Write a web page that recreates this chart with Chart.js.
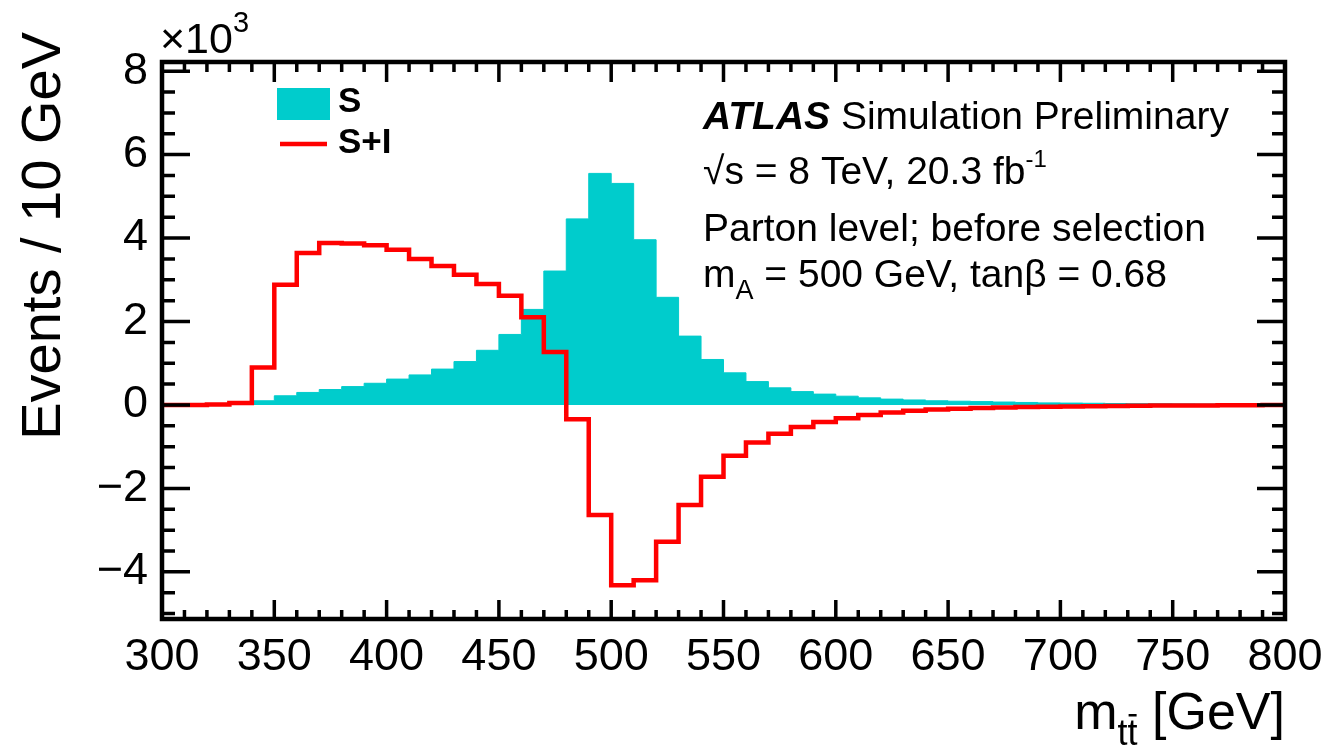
<!DOCTYPE html>
<html>
<head>
<meta charset="utf-8">
<script src="https://cdn.jsdelivr.net/npm/chart.js@4.4.1/dist/chart.umd.min.js"></script>
<style>
  html, body { margin: 0; padding: 0; background: #fff; }
  canvas { display: block; }
</style>
</head>
<body>
<canvas id="chart" width="1324" height="750"></canvas>
<script>
// bin low edges of m_tt (GeV), 10 GeV bins, histogram ends at 800
const binLow = [300, 310, 320, 330, 340, 350, 360, 370, 380, 390,
                400, 410, 420, 430, 440, 450, 460, 470, 480, 490,
                500, 510, 520, 530, 540, 550, 560, 570, 580, 590,
                600, 610, 620, 630, 640, 650, 660, 670, 680, 690,
                700, 710, 720, 730, 740, 750, 760, 770, 780, 790];
const binEnd = 800;

// Events / 10 GeV, in units of 10^3
const signal = [0, 0, 0, 0.02, 0.1, 0.22, 0.3, 0.37, 0.44, 0.52,
                0.62, 0.72, 0.86, 1.04, 1.31, 1.69, 2.29, 3.21, 4.46, 5.55,
                5.31, 3.96, 2.58, 1.65, 1.09, 0.77, 0.56, 0.41, 0.32, 0.26,
                0.21, 0.17, 0.14, 0.12, 0.1, 0.09, 0.08, 0.07, 0.06, 0.05,
                0.045, 0.04, 0.035, 0.03, 0.028, 0.025, 0.022, 0.02, 0.018, 0.016];
const signalPlusInterference = [0, 0, 0.01, 0.05, 0.9, 2.88, 3.64, 3.88, 3.87, 3.83,
                3.72, 3.5, 3.33, 3.12, 2.9, 2.62, 2.1, 1.27, -0.34, -2.64,
                -4.32, -4.2, -3.28, -2.4, -1.72, -1.22, -0.9, -0.69, -0.53, -0.41,
                -0.32, -0.24, -0.18, -0.14, -0.11, -0.09, -0.07, -0.06, -0.05, -0.04,
                -0.035, -0.03, -0.025, -0.02, -0.015, -0.012, -0.01, -0.008, -0.005, -0.003];

const xTickLabels = [300, 350, 400, 450, 500, 550, 600, 650, 700, 750, 800];
const yTickLabels = [-4, -2, 0, 2, 4, 6, 8];

const FONT = 'Liberation Sans, Arial, Helvetica, sans-serif';
const CYAN = '#00cccc';
const RED = '#ff0000';

function histPoints(values) {
  const pts = binLow.map((x, i) => ({ x: x, y: values[i] }));
  pts.push({ x: binEnd, y: values[values.length - 1] });
  return pts;
}

// draws text runs (sub/superscripts) left to right from x at baseline y
function drawRuns(ctx, x, y, runs) {
  runs.forEach(r => {
    ctx.font = r.font;
    ctx.fillText(r.text, x, y + (r.dy || 0));
    x += ctx.measureText(r.text).width;
  });
  return x;
}

const rootStyle = {
  id: 'rootStyle',
  afterDraw(chart) {
    const { ctx, chartArea: a, scales: { x, y } } = chart;
    ctx.save();

    // inward ticks on all four sides
    ctx.strokeStyle = '#000';
    ctx.lineWidth = 3.5;
    ctx.beginPath();
    for (let v = 300; v <= 800; v += 10) {
      const px = x.getPixelForValue(v);
      const major = v % 50 === 0;
      ctx.moveTo(px, a.bottom); ctx.lineTo(px, a.bottom - (major ? 19 : 9));
      ctx.moveTo(px, a.top); ctx.lineTo(px, a.top + (major ? 20 : 10));
    }
    for (let v = -5; v <= 8; v += 0.5) {
      const py = y.getPixelForValue(v);
      const len = v % 2 === 0 ? 28 : 13;
      ctx.moveTo(a.left, py); ctx.lineTo(a.left + len, py);
      ctx.moveTo(a.right, py); ctx.lineTo(a.right - len, py);
    }
    ctx.stroke();
    ctx.lineWidth = 4.5;
    ctx.strokeRect(a.left, a.top, a.right - a.left, a.bottom - a.top);

    ctx.fillStyle = '#000';
    ctx.textAlign = 'left';
    ctx.textBaseline = 'alphabetic';

    // x10^3 multiplier
    drawRuns(ctx, 160, 53, [
      { text: '\u00d710', font: '43px ' + FONT },
      { text: '3', font: '29px ' + FONT, dy: -21 }
    ]);

    // legend
    ctx.fillStyle = CYAN;
    ctx.fillRect(277, 88, 53, 32);
    ctx.strokeStyle = RED;
    ctx.lineWidth = 4.5;
    ctx.beginPath();
    ctx.moveTo(280, 144); ctx.lineTo(327, 144);
    ctx.stroke();
    ctx.fillStyle = '#000';
    ctx.font = 'bold 35px ' + FONT;
    ctx.fillText('S', 338, 112);
    ctx.fillText('S+I', 338, 153);

    // labels
    const tx = 703;
    drawRuns(ctx, tx, 129, [
      { text: 'ATLAS', font: 'italic bold 39px ' + FONT },
      { text: ' Simulation Preliminary', font: '39px ' + FONT }
    ]);
    drawRuns(ctx, tx, 184, [
      { text: '\u221as = 8 TeV, 20.3 fb', font: '39px ' + FONT },
      { text: '-1', font: '24px ' + FONT, dy: -17 }
    ]);
    drawRuns(ctx, tx, 241, [
      { text: 'Parton level; before selection', font: '39px ' + FONT }
    ]);
    drawRuns(ctx, tx, 287, [
      { text: 'm', font: '39px ' + FONT },
      { text: 'A', font: '27px ' + FONT, dy: 12 },
      { text: ' = 500 GeV, tan\u03b2 = 0.68', font: '39px ' + FONT }
    ]);

    // x title: m_tt [GeV], right aligned to the frame
    ctx.font = '52px ' + FONT;
    const tail = ' [GeV]';
    const tailW = ctx.measureText(tail).width;
    ctx.font = '36px ' + FONT;
    const subW = ctx.measureText('tt').width;
    ctx.font = '52px ' + FONT;
    const mW = ctx.measureText('m').width;
    let xs = a.right - tailW - subW - mW;
    xs = drawRuns(ctx, xs, 729, [{ text: 'm', font: '52px ' + FONT }]);
    ctx.font = '36px ' + FONT;
    ctx.fillText('tt', xs, 745);
    const t1 = ctx.measureText('t').width;
    ctx.fillRect(xs + t1 + 1, 714, t1 - 2, 2.5);
    drawRuns(ctx, xs + subW, 729, [{ text: tail, font: '52px ' + FONT }]);

    // y title, rotated, ending near the top of the frame
    ctx.translate(60, 32);
    ctx.rotate(-Math.PI / 2);
    ctx.textAlign = 'right';
    ctx.font = '56px ' + FONT;
    ctx.fillText('Events / 10 GeV', 0, 0);

    ctx.restore();
  }
};

new Chart(document.getElementById('chart'), {
  type: 'line',
  data: {
    datasets: [
      {
        label: 'S+I',
        data: histPoints(signalPlusInterference),
        stepped: 'before',
        borderColor: RED,
        borderWidth: 4.5,
        pointRadius: 0,
        fill: false,
        order: 1
      },
      {
        label: 'S',
        data: histPoints(signal),
        stepped: 'before',
        borderColor: CYAN,
        backgroundColor: CYAN,
        borderWidth: 1,
        pointRadius: 0,
        fill: 'origin',
        order: 2
      }
    ]
  },
  options: {
    responsive: false,
    animation: false,
    devicePixelRatio: 1,
    layout: { padding: { top: 62, right: 39, left: 0, bottom: 0 } },
    plugins: { legend: { display: false }, tooltip: { enabled: false } },
    scales: {
      x: {
        type: 'linear',
        min: 300,
        max: 800,
        afterFit: s => { s.height = 131; s.paddingLeft = 0; s.paddingRight = 0; },
        afterBuildTicks: s => { s.ticks = xTickLabels.map(v => ({ value: v })); },
        grid: { display: false, drawTicks: false },
        border: { display: false },
        ticks: {
          padding: 12,
          maxRotation: 0,
          autoSkip: false,
          color: '#000',
          font: { family: FONT, size: 45 }
        }
      },
      y: {
        type: 'linear',
        min: -5.13,
        max: 8.22,
        afterFit: s => { s.width = 162; s.paddingTop = 0; s.paddingBottom = 0; },
        afterBuildTicks: s => { s.ticks = yTickLabels.map(v => ({ value: v })); },
        grid: { display: false, drawTicks: false },
        border: { display: false },
        ticks: {
          padding: 14,
          color: '#000',
          font: { family: FONT, size: 45 },
          callback: v => (v < 0 ? '\u2212' + Math.abs(v) : String(v))
        }
      }
    }
  },
  plugins: [rootStyle]
});
</script>
</body>
</html>
